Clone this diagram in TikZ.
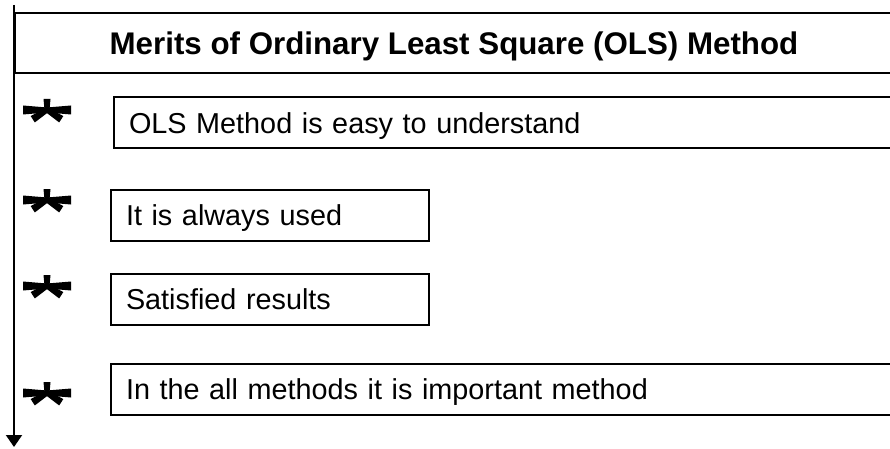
\documentclass[tikz,border=0pt]{standalone}
\usepackage{fontspec}
\setmainfont{Liberation Sans}
\usetikzlibrary{arrows.meta}
\tikzset{
	headbox/.style={
		draw=black,
		line width=2pt,
		minimum height=60pt,
		inner sep=0pt,
		text height=22.4pt,
		text depth=0pt,
		font=\fontsize{31.3}{35}\selectfont\bfseries
	},
	itembox/.style={
		draw=black,
		line width=2pt,
		anchor=west,
		minimum height=51pt,
		inner xsep=15pt,
		inner ysep=0pt,
		text height=20.6pt,
		text depth=0pt,
		text width=#1,
		align=left,
		font=\fontsize{28.8}{32}\selectfont
	},
	starmark/.pic={
		% five flared arms of the bullet
		\foreach \a/\l/\w in {0/24/4.5,180/24/4.5,90/11/3.5,-33/17/3.8,-147/17/3.8} {
			\fill[black,rotate=\a] (0,-2.5) -- (\l,-\w) -- (\l,\w) -- (0,2.5) -- cycle;
		}
	}
}

\begin{document}
\begin{tikzpicture}[x=1pt,y=-1pt]
	\useasboundingbox (0,0) rectangle (890,449);
	% axis on the left
	\coordinate (top) at (14,5);
	\coordinate (bot) at (14,447);
	\draw[line width=2pt,-{Triangle[length=12pt,width=16pt]}] (top) -- (bot);
	% heading
	\node (head) [headbox,minimum width=878pt,anchor=north west] at (14,12.5)
		{Merits of Ordinary Least Square (OLS) Method};
	% the four merits
	\node (m1) [itembox=857pt] at (113,123) {OLS Method is easy to understand};
	\node (m2) [itembox=288pt] at (110,215) {It is always used};
	\node (m3) [itembox=288pt] at (110,299) {Satisfied results};
	\node (m4) [itembox=860pt] at (110,389.5) {In the all methods it is important method};
	% bullets
	\foreach \n/\y in {1/110,2/200,3/286,4/393} {
		\pic (s\n) at (47,\y) {starmark};
	}
\end{tikzpicture}
\end{document}
